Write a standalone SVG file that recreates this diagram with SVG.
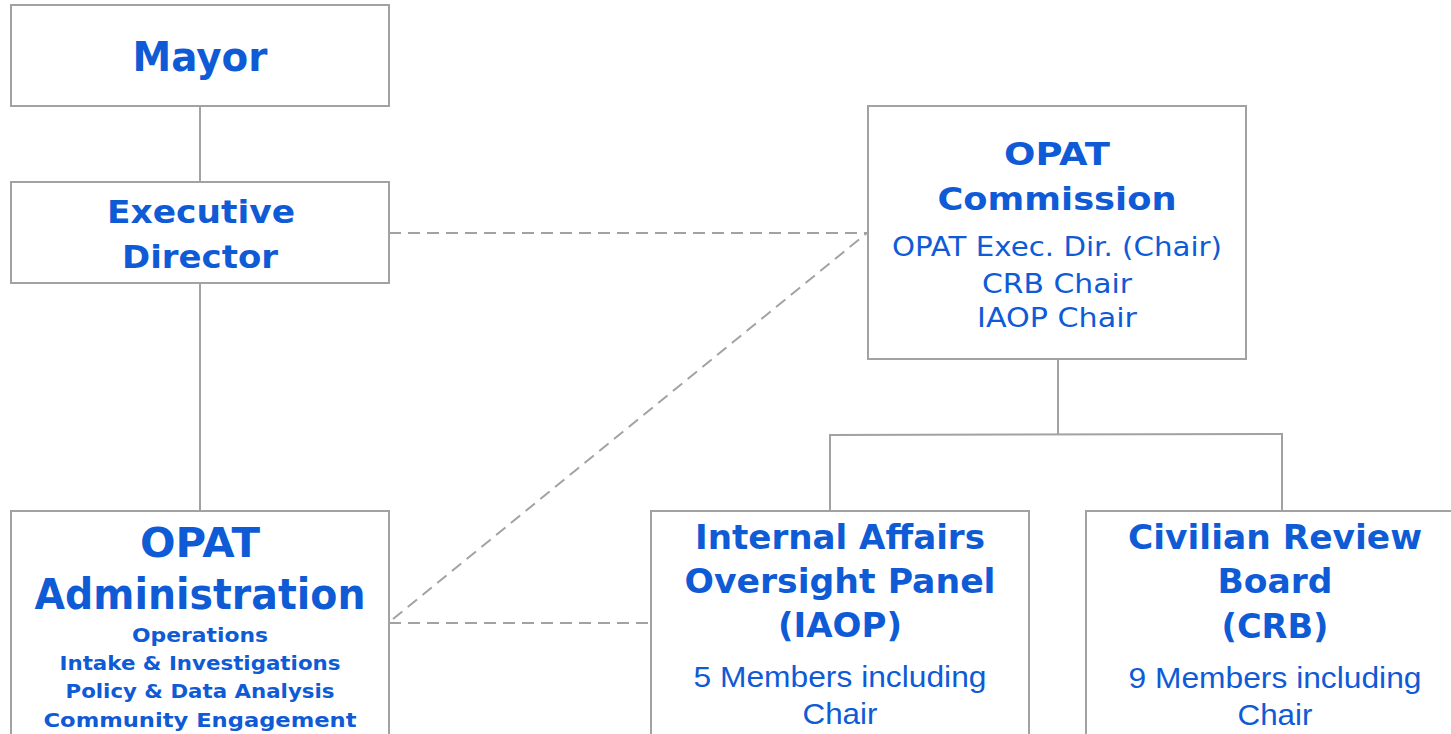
<svg xmlns="http://www.w3.org/2000/svg" width="1451" height="734" viewBox="0 0 1451 734">
<style>
.box{fill:#ffffff;stroke:#a2a2a2;stroke-width:2}
.ln{fill:none;stroke:#a2a2a2;stroke-width:2}
.dash{fill:none;stroke:#a2a2a2;stroke-width:2;stroke-dasharray:12 7}
text{fill:#0f5bd6;text-anchor:middle}
.h{font-family:"DejaVu Sans","Liberation Sans",sans-serif;font-weight:bold}
.m{font-family:"DejaVu Sans","Liberation Sans",sans-serif;font-weight:normal}
.a{font-family:"Liberation Sans",Arial,sans-serif;font-weight:normal}
</style>
<rect width="1451" height="734" fill="#ffffff"/>
<g id="connectors">
<line class="ln" x1="200" y1="106" x2="200" y2="182"/>
<line class="ln" x1="200" y1="283" x2="200" y2="511"/>
<polyline class="ln" points="1058,359 1058,434"/>
<polyline class="ln" points="830,511 830,435 1282,434 1282,511"/>
<line class="dash" x1="389" y1="233" x2="867" y2="233"/>
<line class="dash" x1="393" y1="619" x2="867" y2="233"/>
<line class="dash" x1="389" y1="623" x2="651" y2="623"/>
</g>
<g id="mayor">
<rect class="box" x="11" y="5" width="378" height="101"/>
<text class="h" x="200" y="71" font-size="41" textLength="135" lengthAdjust="spacingAndGlyphs">Mayor</text>
</g>
<g id="executive-director">
<rect class="box" x="11" y="182" width="378" height="101"/>
<text class="h" x="201" y="223" font-size="32" textLength="188" lengthAdjust="spacingAndGlyphs">Executive</text>
<text class="h" x="200" y="268" font-size="32" textLength="156" lengthAdjust="spacingAndGlyphs">Director</text>
</g>
<g id="opat-administration">
<rect class="box" x="11" y="511" width="378" height="240"/>
<text class="h" x="200" y="557" font-size="40" textLength="120" lengthAdjust="spacingAndGlyphs">OPAT</text>
<text class="h" x="200" y="609" font-size="43" textLength="331" lengthAdjust="spacingAndGlyphs">Administration</text>
<text class="h" x="200" y="642" font-size="19" textLength="136" lengthAdjust="spacingAndGlyphs">Operations</text>
<text class="h" x="200" y="670" font-size="19" textLength="281" lengthAdjust="spacingAndGlyphs">Intake &amp; Investigations</text>
<text class="h" x="200" y="698" font-size="19" textLength="269" lengthAdjust="spacingAndGlyphs">Policy &amp; Data Analysis</text>
<text class="h" x="200" y="727" font-size="19" textLength="313" lengthAdjust="spacingAndGlyphs">Community Engagement</text>
</g>
<g id="opat-commission">
<rect class="box" x="868" y="106" width="378" height="253"/>
<text class="h" x="1057" y="165" font-size="32" textLength="106" lengthAdjust="spacingAndGlyphs">OPAT</text>
<text class="h" x="1057" y="210" font-size="32" textLength="239" lengthAdjust="spacingAndGlyphs">Commission</text>
<text class="m" x="1057" y="256" font-size="26" textLength="330" lengthAdjust="spacingAndGlyphs">OPAT Exec. Dir. (Chair)</text>
<text class="m" x="1057" y="293" font-size="26" textLength="150" lengthAdjust="spacingAndGlyphs">CRB Chair</text>
<text class="m" x="1057" y="327" font-size="26" textLength="160" lengthAdjust="spacingAndGlyphs">IAOP Chair</text>
</g>
<g id="iaop">
<rect class="box" x="651" y="511" width="378" height="240"/>
<text class="h" x="840" y="549" font-size="33" textLength="290" lengthAdjust="spacingAndGlyphs">Internal Affairs</text>
<text class="h" x="840" y="593" font-size="33" textLength="311" lengthAdjust="spacingAndGlyphs">Oversight Panel</text>
<text class="h" x="840" y="637" font-size="33" textLength="124" lengthAdjust="spacingAndGlyphs">(IAOP)</text>
<text class="a" x="840" y="687" font-size="29" textLength="293" lengthAdjust="spacingAndGlyphs">5 Members including</text>
<text class="a" x="840" y="724" font-size="29" textLength="75" lengthAdjust="spacingAndGlyphs">Chair</text>
</g>
<g id="crb">
<rect class="box" x="1086" y="511" width="378" height="240"/>
<text class="h" x="1275" y="549" font-size="33" textLength="294" lengthAdjust="spacingAndGlyphs">Civilian Review</text>
<text class="h" x="1275" y="593" font-size="33" textLength="115" lengthAdjust="spacingAndGlyphs">Board</text>
<text class="h" x="1275" y="638" font-size="33" textLength="107" lengthAdjust="spacingAndGlyphs">(CRB)</text>
<text class="a" x="1275" y="688" font-size="29" textLength="293" lengthAdjust="spacingAndGlyphs">9 Members including</text>
<text class="a" x="1275" y="725" font-size="29" textLength="75" lengthAdjust="spacingAndGlyphs">Chair</text>
</g>
</svg>
